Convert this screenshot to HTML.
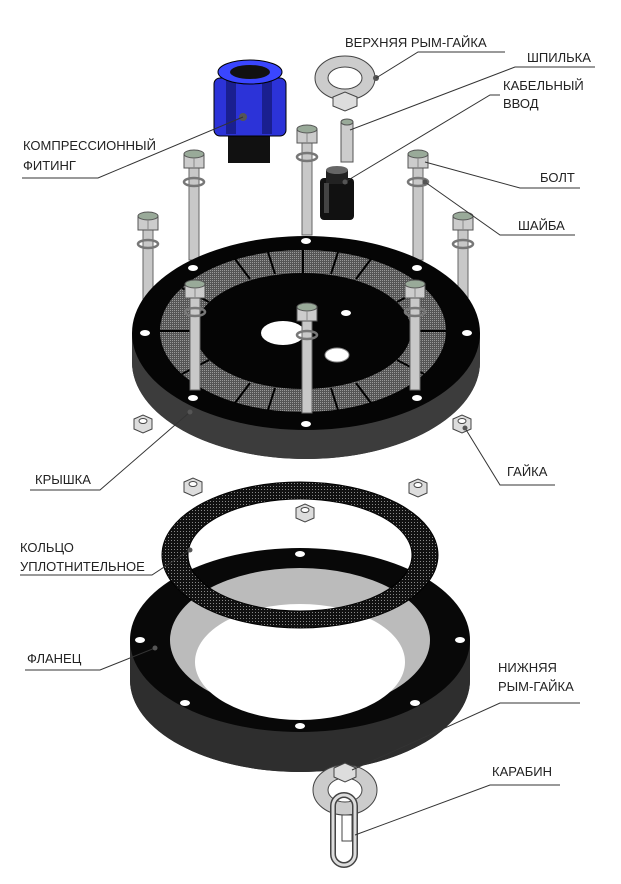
<!DOCTYPE html>
<html><head><meta charset="utf-8"><style>
html,body{margin:0;padding:0;background:#fff;width:621px;height:884px;overflow:hidden}
text{font-family:"Liberation Sans",sans-serif;font-size:13px;fill:#222}
</style></head><body>
<svg width="621" height="884" viewBox="0 0 621 884" xmlns="http://www.w3.org/2000/svg">
<defs>
<pattern id="dots" width="3" height="3" patternUnits="userSpaceOnUse"><rect width="3" height="3" fill="#111"/><rect width="1" height="1" fill="#888"/></pattern>
<pattern id="hatch" width="2" height="2" patternUnits="userSpaceOnUse"><rect width="2" height="2" fill="#555"/><rect width="1" height="1" fill="#999"/></pattern>
<g id="bolt">
<rect x="-5" y="0" width="10" height="100" fill="#c8c8c8" stroke="#666" stroke-width="1"/>
<ellipse cx="0" cy="22" rx="10" ry="4" fill="none" stroke="#777" stroke-width="2.5"/>
<polygon points="-10,-6 10,-6 10,8 -10,8" fill="#ccc" stroke="#555"/>
<ellipse cx="0" cy="-6" rx="10" ry="4" fill="#9a9" stroke="#555"/>
<line x1="0" y1="-2" x2="0" y2="8" stroke="#888"/>
</g>
<g id="nut">
<polygon points="-9,-5 0,-9 9,-5 9,5 0,9 -9,5" fill="#ddd" stroke="#444"/>
<ellipse cx="0" cy="-3" rx="4" ry="2.5" fill="#fff" stroke="#444"/>
</g>
</defs>

<!-- back bolts -->
<use href="#bolt" x="194" y="160"/>
<use href="#bolt" x="307" y="135"/>
<use href="#bolt" x="418" y="160"/>
<use href="#bolt" x="148" y="222"/>
<use href="#bolt" x="463" y="222"/>

<!-- cover -->
<path d="M132,333 L132,362 A174,97 0 0 0 480,362 L480,333 Z" fill="#3c3c3c"/>
<ellipse cx="306" cy="362" rx="174" ry="97" fill="#3c3c3c"/>
<ellipse cx="306" cy="333" rx="174" ry="97" fill="#050505"/>
<ellipse cx="303" cy="331" rx="143" ry="81" fill="url(#hatch)"/>
<g stroke="#000" stroke-width="2">
<line x1="303" y1="250" x2="303" y2="273"/><line x1="303" y1="389" x2="303" y2="412"/>
<line x1="160" y1="331" x2="195" y2="331"/><line x1="411" y1="331" x2="446" y2="331"/>
<line x1="235" y1="259" x2="250" y2="279"/><line x1="371" y1="259" x2="356" y2="279"/>
<line x1="235" y1="403" x2="250" y2="383"/><line x1="371" y1="403" x2="356" y2="383"/>
<line x1="182" y1="288" x2="209" y2="302"/><line x1="424" y1="288" x2="397" y2="302"/>
<line x1="182" y1="374" x2="209" y2="360"/><line x1="424" y1="374" x2="397" y2="360"/>
<line x1="268" y1="252" x2="275" y2="274"/><line x1="338" y1="252" x2="331" y2="274"/>
<line x1="268" y1="410" x2="275" y2="388"/><line x1="338" y1="410" x2="331" y2="388"/>
</g>
<ellipse cx="303" cy="331" rx="108" ry="58" fill="#050505"/>
<ellipse cx="283" cy="333" rx="22" ry="12" fill="#fff"/>
<ellipse cx="337" cy="355" rx="12" ry="7" fill="#fff" stroke="#888"/>
<ellipse cx="346" cy="313" rx="5" ry="3" fill="#fff"/>
<g fill="#fff">
<ellipse cx="306" cy="241" rx="5" ry="3"/><ellipse cx="306" cy="424" rx="5" ry="3"/>
<ellipse cx="145" cy="333" rx="5" ry="3"/><ellipse cx="467" cy="333" rx="5" ry="3"/>
<ellipse cx="193" cy="268" rx="5" ry="3"/><ellipse cx="417" cy="268" rx="5" ry="3"/>
<ellipse cx="193" cy="398" rx="5" ry="3"/><ellipse cx="417" cy="398" rx="5" ry="3"/>
</g>
<!-- front bolts -->
<use href="#bolt" x="195" y="290"/>
<use href="#bolt" x="415" y="290"/>
<use href="#bolt" x="307" y="313"/>

<!-- nuts -->
<use href="#nut" x="143" y="424"/>
<use href="#nut" x="462" y="424"/>
<use href="#nut" x="193" y="487"/>
<use href="#nut" x="418" y="488"/>
<use href="#nut" x="305" y="513"/>

<!-- flange -->
<path d="M130,640 L130,680 A170,92 0 0 0 470,680 L470,640 Z" fill="#2e2e2e"/>
<ellipse cx="300" cy="680" rx="170" ry="92" fill="#2e2e2e"/>
<ellipse cx="300" cy="640" rx="170" ry="92" fill="#080808"/>
<ellipse cx="300" cy="640" rx="130" ry="72" fill="#bbb"/>
<ellipse cx="300" cy="662" rx="105" ry="58" fill="#fff"/>
<g fill="#fff">
<ellipse cx="300" cy="554" rx="5" ry="3"/><ellipse cx="300" cy="726" rx="5" ry="3"/>
<ellipse cx="140" cy="640" rx="5" ry="3"/><ellipse cx="460" cy="640" rx="5" ry="3"/>
<ellipse cx="185" cy="580" rx="5" ry="3"/><ellipse cx="415" cy="580" rx="5" ry="3"/>
<ellipse cx="185" cy="703" rx="5" ry="3"/><ellipse cx="415" cy="703" rx="5" ry="3"/>
</g>

<!-- gasket -->
<path fill-rule="evenodd" fill="url(#dots)" stroke="#000" d="M162,555 A138,73 0 1 0 438,555 A138,73 0 1 0 162,555 Z M188,555 A112,56 0 1 0 412,555 A112,56 0 1 0 188,555 Z"/>

<!-- compression fitting -->
<rect x="228" y="128" width="42" height="35" fill="#111"/>
<rect x="214" y="78" width="72" height="58" rx="6" fill="#2c33d8" stroke="#000"/>
<rect x="226" y="80" width="10" height="54" fill="#1a1f90"/>
<rect x="262" y="80" width="10" height="54" fill="#1a1f90"/>
<ellipse cx="250" cy="72" rx="32" ry="12" fill="#3a46ff" stroke="#000"/>
<ellipse cx="250" cy="72" rx="20" ry="7" fill="#111"/>
<circle cx="243" cy="117" r="4" fill="#555"/>

<!-- top eye nut -->
<path fill-rule="evenodd" fill="#ccc" stroke="#444" d="M315,78 A30,22 0 1 0 375,78 A30,22 0 1 0 315,78 Z M328,78 A17,11 0 1 0 362,78 A17,11 0 1 0 328,78 Z"/>
<polygon points="333,97 345,92 357,97 357,106 345,111 333,106" fill="#ddd" stroke="#444"/>
<circle cx="376" cy="78" r="3" fill="#555"/>

<!-- stud -->
<rect x="341" y="122" width="12" height="40" fill="#ccc" stroke="#555"/>
<ellipse cx="347" cy="122" rx="6" ry="3" fill="#9a9" stroke="#555"/>
<!-- cable gland -->
<rect x="320" y="178" width="34" height="42" rx="4" fill="#111"/>
<rect x="326" y="170" width="22" height="14" fill="#222"/>
<ellipse cx="337" cy="170" rx="11" ry="4" fill="#666"/>
<rect x="324" y="183" width="5" height="30" fill="#444"/>

<!-- bottom eye nut and carabiner -->
<path fill-rule="evenodd" fill="#ccc" stroke="#444" d="M313,790 A32,25 0 1 0 377,790 A32,25 0 1 0 313,790 Z M328,790 A17,12 0 1 0 362,790 A17,12 0 1 0 328,790 Z"/>
<polygon points="334,768 345,763 356,768 356,777 345,782 334,777" fill="#ddd" stroke="#444"/>
<rect x="333" y="795" width="22" height="70" rx="11" fill="none" stroke="#444" stroke-width="6"/>
<rect x="333" y="795" width="22" height="70" rx="11" fill="none" stroke="#ddd" stroke-width="3"/>
<rect x="342" y="815" width="10" height="26" fill="#fff" stroke="#444"/>

<!-- leaders -->
<g stroke="#333" stroke-width="1" fill="none">
<polyline points="376,78 418,52 505,52"/>
<polyline points="350,130 515,67 595,67"/>
<polyline points="345,182 490,95 500,95"/>
<polyline points="243,117 98,178 22,178"/>
<polyline points="425,162 520,188 580,188"/>
<polyline points="425,182 500,235 575,235"/>
<polyline points="190,412 100,490 30,490"/>
<polyline points="465,428 500,485 555,485"/>
<polyline points="190,550 152,575 20,575"/>
<polyline points="155,648 100,670 25,670"/>
<polyline points="352,770 500,703 580,703"/>
<polyline points="355,835 490,785 560,785"/>
</g>
<g fill="#555"><circle cx="190" cy="412" r="2.5"/><circle cx="465" cy="428" r="2.5"/><circle cx="190" cy="550" r="2.5"/><circle cx="155" cy="648" r="2.5"/><circle cx="345" cy="182" r="2.5"/><circle cx="425" cy="182" r="2.5"/></g>

<text x="345" y="47">ВЕРХНЯЯ РЫМ-ГАЙКА</text>
<text x="527" y="62">ШПИЛЬКА</text>
<text x="503" y="90">КАБЕЛЬНЫЙ</text>
<text x="503" y="108">ВВОД</text>
<text x="23" y="150">КОМПРЕССИОННЫЙ</text>
<text x="23" y="170">ФИТИНГ</text>
<text x="540" y="182">БОЛТ</text>
<text x="518" y="230">ШАЙБА</text>
<text x="35" y="484">КРЫШКА</text>
<text x="507" y="476">ГАЙКА</text>
<text x="20" y="552">КОЛЬЦО</text>
<text x="20" y="571">УПЛОТНИТЕЛЬНОЕ</text>
<text x="27" y="663">ФЛАНЕЦ</text>
<text x="498" y="672">НИЖНЯЯ</text>
<text x="498" y="691">РЫМ-ГАЙКА</text>
<text x="492" y="776">КАРАБИН</text>
</svg>
</body></html>
